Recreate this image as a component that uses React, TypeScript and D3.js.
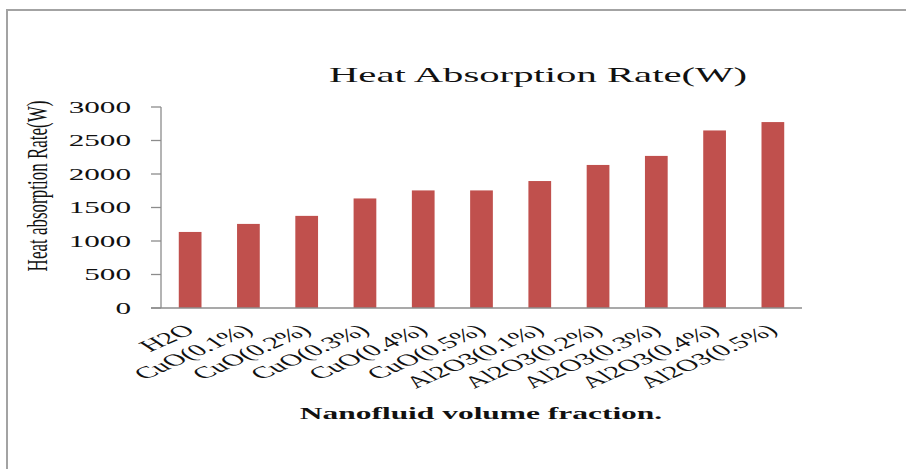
import React from "react";
import * as d3 from "d3";

const categories = [
  "H2O",
  "CuO(0.1%)",
  "CuO(0.2%)",
  "CuO(0.3%)",
  "CuO(0.4%)",
  "CuO(0.5%)",
  "Al2O3(0.1%)",
  "Al2O3(0.2%)",
  "Al2O3(0.3%)",
  "Al2O3(0.4%)",
  "Al2O3(0.5%)",
];
const heatRate = [1135, 1255, 1375, 1635, 1755, 1755, 1895, 2135, 2270, 2650, 2775];
const yTicks = [0, 500, 1000, 1500, 2000, 2500, 3000];

const chartTitle = "Heat Absorption Rate(W)";
const xTitle = "Nanofluid volume fraction.";
const yTitle = "Heat absorption Rate(W)";

const W = 906;
const H = 469;
const plot = { left: 161, right: 802, top: 107, bottom: 308 };
const SX = 1.85; // horizontal text stretch
const FONT = "'Liberation Serif', 'Times New Roman', serif";
const BAR = "#C0504D";
const AXIS = "#8c8c8c";

export default function App() {
  const x = d3
    .scaleBand<string>()
    .domain(categories)
    .range([plot.left, plot.right])
    .paddingInner(0.61)
    .paddingOuter(0.305);
  const y = d3.scaleLinear().domain([0, 3000]).range([plot.bottom, plot.top]);

  return (
    <svg
      width={W}
      height={H}
      viewBox={`0 0 ${W} ${H}`}
      style={{ position: "absolute", left: 0, top: 0, background: "#fff" }}
    >
      {/* frame edges */}
      <line x1={6} x2={W} y1={10} y2={10} stroke="#a3a3a3" strokeWidth={2} />
      <line x1={7} x2={7} y1={10} y2={H} stroke="#a3a3a3" strokeWidth={2} />

      {/* title */}
      <text
        transform={`translate(538,82) scale(${SX},1)`}
        textAnchor="middle"
        fontFamily={FONT}
        fontSize={22}
        fill="#111"
      >
        {chartTitle}
      </text>

      {/* y axis */}
      <line x1={plot.left} x2={plot.left} y1={plot.top} y2={plot.bottom} stroke={AXIS} strokeWidth={1.3} />
      {yTicks.map((t) => (
        <g key={t}>
          <line x1={plot.left - 10} x2={plot.left} y1={y(t)} y2={y(t)} stroke={AXIS} strokeWidth={1.3} />
          <text
            transform={`translate(131,${y(t) + 5.5}) scale(1.95,1)`}
            textAnchor="end"
            fontFamily={FONT}
            fontSize={16}
            fill="#111"
          >
            {t}
          </text>
        </g>
      ))}

      {/* bars */}
      {categories.map((c, i) => (
        <rect
          key={c}
          x={x(c)}
          y={y(heatRate[i])}
          width={x.bandwidth()}
          height={y(0) - y(heatRate[i])}
          fill={BAR}
        />
      ))}

      {/* x axis */}
      <line x1={plot.left - 10} x2={plot.right} y1={plot.bottom} y2={plot.bottom} stroke={AXIS} strokeWidth={1.3} />
      {categories.map((c) => (
        <text
          key={c}
          transform={`translate(${(x(c) as number) + x.bandwidth() / 2 + 6},332) scale(${SX},1) rotate(-39)`}
          textAnchor="end"
          fontFamily={FONT}
          fontSize={16.5}
          fill="#111"
        >
          {c}
        </text>
      ))}

      {/* axis titles */}
      <text
        transform={`translate(481,419) scale(${SX},1)`}
        textAnchor="middle"
        fontFamily={FONT}
        fontSize={17}
        fontWeight="bold"
        fill="#111"
      >
        {xTitle}
      </text>
      <text
        transform={`translate(47,186) scale(1.77,1) rotate(-90)`}
        textAnchor="middle"
        fontFamily={FONT}
        fontSize={17}
        fill="#111"
      >
        {yTitle}
      </text>
    </svg>
  );
}
